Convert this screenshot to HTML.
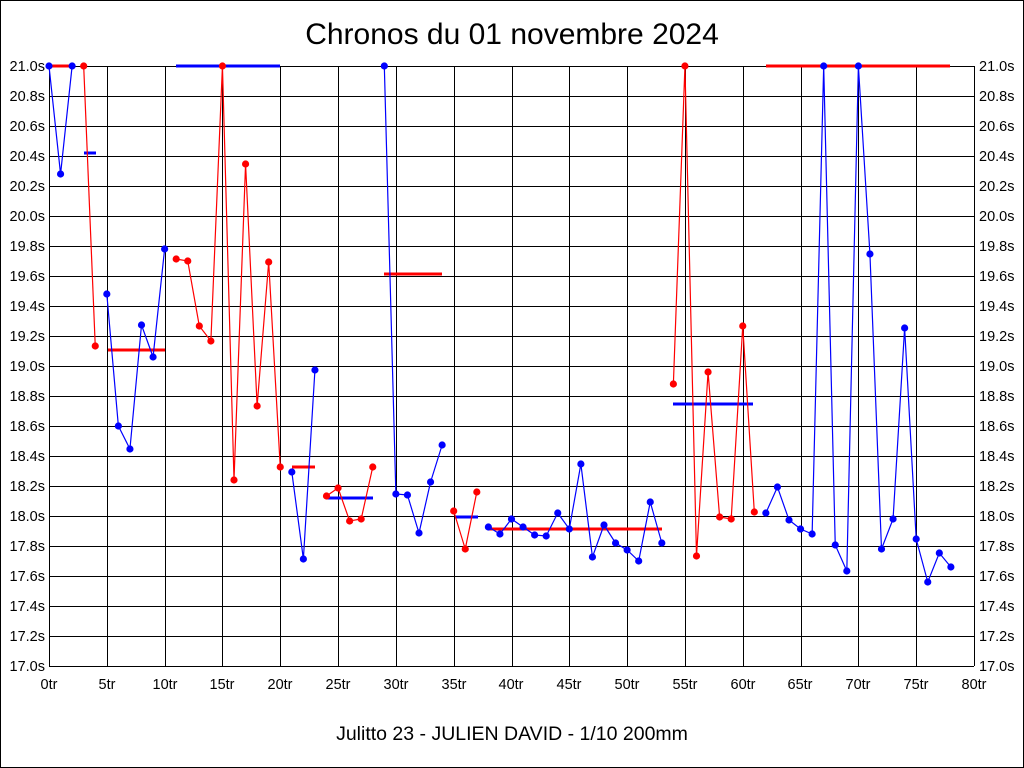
<!DOCTYPE html>
<html><head><meta charset="utf-8"><style>
html,body{margin:0;padding:0;background:#fff}
svg{display:block}
text{font-family:"Liberation Sans",sans-serif;fill:#000}
</style></head><body>
<svg id="s" width="1024" height="768" xmlns="http://www.w3.org/2000/svg">
<rect x="0.5" y="0.5" width="1023" height="767" fill="#fff" stroke="#000"/>
<g id="grid"></g>
<text x="512" y="44" font-size="30" text-anchor="middle">Chronos du 01 novembre 2024</text>
<text x="512" y="740" font-size="19.5" text-anchor="middle">Julitto 23 - JULIEN DAVID - 1/10 200mm</text>
<g font-size="14.5" text-anchor="end">
<text x="45" y="71">21.0s</text><text x="45" y="101">20.8s</text><text x="45" y="131">20.6s</text><text x="45" y="161">20.4s</text><text x="45" y="191">20.2s</text><text x="45" y="221">20.0s</text><text x="45" y="251">19.8s</text><text x="45" y="281">19.6s</text><text x="45" y="311">19.4s</text><text x="45" y="341">19.2s</text><text x="45" y="371">19.0s</text><text x="45" y="401">18.8s</text><text x="45" y="431">18.6s</text><text x="45" y="461">18.4s</text><text x="45" y="491">18.2s</text><text x="45" y="521">18.0s</text><text x="45" y="551">17.8s</text><text x="45" y="581">17.6s</text><text x="45" y="611">17.4s</text><text x="45" y="641">17.2s</text><text x="45" y="671">17.0s</text>
</g>
<g font-size="14.5" text-anchor="start">
<text x="979" y="71">21.0s</text><text x="979" y="101">20.8s</text><text x="979" y="131">20.6s</text><text x="979" y="161">20.4s</text><text x="979" y="191">20.2s</text><text x="979" y="221">20.0s</text><text x="979" y="251">19.8s</text><text x="979" y="281">19.6s</text><text x="979" y="311">19.4s</text><text x="979" y="341">19.2s</text><text x="979" y="371">19.0s</text><text x="979" y="401">18.8s</text><text x="979" y="431">18.6s</text><text x="979" y="461">18.4s</text><text x="979" y="491">18.2s</text><text x="979" y="521">18.0s</text><text x="979" y="551">17.8s</text><text x="979" y="581">17.6s</text><text x="979" y="611">17.4s</text><text x="979" y="641">17.2s</text><text x="979" y="671">17.0s</text>
</g>
<g font-size="14.5" text-anchor="middle">
<text x="49" y="689">0tr</text><text x="107" y="689">5tr</text><text x="165" y="689">10tr</text><text x="222" y="689">15tr</text><text x="280" y="689">20tr</text><text x="338" y="689">25tr</text><text x="396" y="689">30tr</text><text x="454" y="689">35tr</text><text x="511" y="689">40tr</text><text x="569" y="689">45tr</text><text x="627" y="689">50tr</text><text x="685" y="689">55tr</text><text x="743" y="689">60tr</text><text x="800" y="689">65tr</text><text x="858" y="689">70tr</text><text x="916" y="689">75tr</text><text x="974" y="689">80tr</text>
</g>
<g id="data"></g>
</svg>
<script>
var NS="http://www.w3.org/2000/svg";
function el(p,t,a){var e=document.createElementNS(NS,t);for(var k in a)e.setAttribute(k,a[k]);p.appendChild(e);return e;}
var g=document.getElementById("grid"),d=document.getElementById("data");
for(var i=0;i<=16;i++){var x=Math.round(49+i*57.8125)+.5;el(g,"line",{x1:x,y1:66,x2:x,y2:666,stroke:"#000"});}
for(var j=0;j<=20;j++){var y=66+j*30+.5;el(g,"line",{x1:49,y1:y,x2:974,y2:y,stroke:"#000"});}
function X(i){return 49+i*11.5625;}
var segs=[
["b",[[0,66],[1,174],[2,66]]],
["r",[[3,66],[4,346]]],
["b",[[5,294],[6,426],[7,449],[8,325],[9,357],[10,249]]],
["r",[[11,259],[12,261],[13,326],[14,341],[15,66],[16,480],[17,164],[18,406],[19,262],[20,467]]],
["b",[[21,472],[22,559],[23,370]]],
["r",[[24,496],[25,488],[26,521],[27,519],[28,467]]],
["b",[[29,66],[30,494],[31,495],[32,533],[33,482],[34,445]]],
["r",[[35,511],[36,549],[37,492]]],
["b",[[38,527],[39,534],[40,519],[41,527],[42,535],[43,536],[44,513],[45,529],[46,464],[47,557],[48,525],[49,543],[50,550],[51,561],[52,502],[53,543]]],
["r",[[54,384],[55,66],[56,556],[57,372],[58,517],[59,519],[60,326],[61,512]]],
["b",[[62,513],[63,487],[64,520],[65,529],[66,534],[67,66],[68,545],[69,571],[70,66],[71,254],[72,549],[73,519],[74,328],[75,539],[76,582],[77,553],[78,567]]]
];
var avgs=[["r",49,72,66],["b",84,96,153],["r",108,165,350],["b",176,280,66],["r",292,315,467],["b",326,373,498],["r",384,442,274],["b",455,478,517],["r",488,662,529],["b",673,753,404],["r",766,950,66]];
avgs.forEach(function(a){el(d,"line",{x1:a[1],y1:a[3],x2:a[2],y2:a[3],stroke:a[0]=="r"?"#f00":"#00f","stroke-width":3});});
segs.forEach(function(s){var c=s[0]=="r"?"#f00":"#00f";
el(d,"polyline",{points:s[1].map(function(p){return X(p[0])+","+p[1];}).join(" "),fill:"none",stroke:c,"stroke-width":1.2});
s[1].forEach(function(p){el(d,"circle",{cx:X(p[0]),cy:p[1],r:3.6,fill:c});});});
</script>
</body></html>
